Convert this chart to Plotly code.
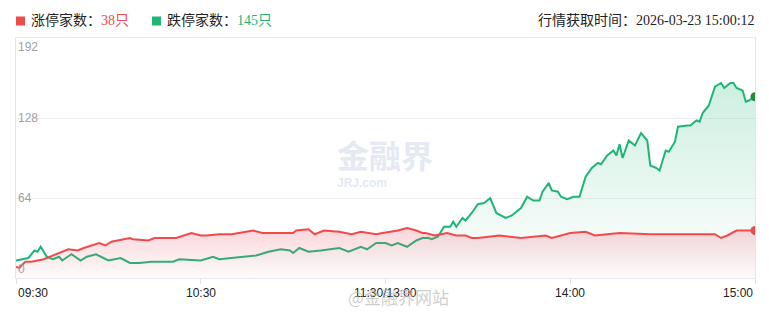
import plotly.graph_objects as go

# ---- data (minute index from 09:30, trading minutes) ----
red_min = [0,1,3,5,9,11,14,17,20,22,27,29,31,37,38,43,45,52,57,60,62,66,70,77,80,90,91,95,97,100,
           105,109,112,117,119,124,127,130,132,133,136,140,143,146,148,150,157,164,172,174,180,185,188,
           196,206,215,222,227,229,231,234,240]
red_val = [9,8,13,13,15,17,20,23,22,24,28,26,29,32,31,30,32,32,36,34,34,35,35,38,36,36,38,39,35,38,
           37,35,37,35,36,38,40,38,36,36,34,36,34,34,32,32,34,32,34,32,36,37,34,36,35,35,35,35,32,34,38,38]

green_min = [0,4,6,7,8,10,12,14,15,18,21,23,26,30,34,37,40,44,51,53,60,64,66,70,78,82,86,89,90,92,95,
             99,105,108,112,114,117,120,122,124,126,127,130,132,134,135,137,139,141,142,143,145,146,148,
             150,152,154,156,159,161,164,166,168,170,171,173,174,176,177,179,181,183,185,187,189,190,192,
             194,195,196,197,199,201,203,205,206,208,209,211,212,214,215,218,219,221,222,223,225,227,229,
             230,232,233,234,236,237,238,240]
green_val = [14,16,22,21,25,17,15,17,14,19,14,17,19,14,16,12,12,13,13,15,14,17,15,16,18,21,23,22,20,24,21,
             22,24,21,25,23,28,28,26,28,26,25,30,32,32,31,33,41,41,45,41,48,46,52,59,60,64,52,48,50,56,65,
             62,62,69,76,70,69,65,63,65,65,81,88,92,91,98,102,98,107,96,110,106,116,110,90,88,86,102,101,
             109,121,122,122,126,125,132,138,153,156,152,156,156,152,150,141,142,145]

tick_pos = [0, 60, 120, 180, 240]
tick_labels = ["09:30", "10:30", "11:30/13:00", "14:00", "15:00"]
y_ticks = [0, 64, 128, 192]

RED = "#f24a4a"
GREEN = "#1fb577"

fig = go.Figure()

fig.add_trace(go.Scatter(
    x=green_min, y=green_val, mode="lines",
    line=dict(color=GREEN, width=2),
    fill="tozeroy",
    fillgradient=dict(type="vertical",
                      colorscale=[[0, "rgba(31,181,119,0.0)"], [1, "rgba(31,181,119,0.22)"]]),
    hoverinfo="skip", showlegend=False))

fig.add_trace(go.Scatter(
    x=red_min, y=red_val, mode="lines",
    line=dict(color=RED, width=2),
    fill="tozeroy",
    fillgradient=dict(type="vertical",
                      colorscale=[[0, "rgba(230,90,110,0.02)"], [1, "rgba(230,90,110,0.25)"]]),
    hoverinfo="skip", showlegend=False))

# end point markers
fig.add_trace(go.Scatter(x=[green_min[-1]], y=[green_val[-1]], mode="markers",
                         marker=dict(size=9, color="#1e8a3a"), hoverinfo="skip", showlegend=False))
fig.add_trace(go.Scatter(x=[red_min[-1]], y=[red_val[-1]], mode="markers",
                         marker=dict(size=9, color=RED), hoverinfo="skip", showlegend=False))

L, R, T, B = 16, 14, 38, 35
W, H = 769, 313
PW, PH = W - L - R, H - T - B

def px(x):
    return (x - L) / PW

def py(y):
    return (H - B - y) / PH

ann = []
# y tick labels
for v in y_ticks:
    anc = "middle"
    if v == y_ticks[-1]:
        anc = "top"
    elif v == 0:
        anc = "bottom"
    ann.append(dict(x=0, xref="x", y=v, yref="y", text=str(v), showarrow=False,
                    xanchor="left", yanchor=anc, xshift=0,
                    font=dict(family="Liberation Sans, Arial", size=12, color="#a0a0a0")))
# x tick labels
for i, (p, t) in enumerate(zip(tick_pos, tick_labels)):
    xa = "left" if i == 0 else ("right" if i == len(tick_pos) - 1 else "center")
    ann.append(dict(x=p, xref="x", y=py(293), yref="paper", text=t, showarrow=False,
                    xanchor=xa, yanchor="middle",
                    font=dict(family="Liberation Sans, Arial", size=12, color="#222")))

TXT = "Liberation Serif, Noto Sans CJK SC"
ann.append(dict(x=px(29), xref="paper", y=py(20), yref="paper", showarrow=False,
                xanchor="left", yanchor="middle",
                text="涨停家数：<span style='color:%s'>38只</span>" % RED,
                font=dict(family=TXT, size=14, color="#222")))
ann.append(dict(x=px(165), xref="paper", y=py(20), yref="paper", showarrow=False,
                xanchor="left", yanchor="middle",
                text="跌停家数：<span style='color:%s'>145只</span>" % GREEN,
                font=dict(family=TXT, size=14, color="#222")))
ann.append(dict(x=px(757), xref="paper", y=py(20), yref="paper", showarrow=False,
                xanchor="right", yanchor="middle",
                text="行情获取时间：2026-03-23 15:00:12",
                font=dict(family=TXT, size=14, color="#222")))
# watermarks
ann.append(dict(x=px(385), xref="paper", y=py(154), yref="paper", showarrow=False,
                xanchor="center", yanchor="middle", text="<b>金融界</b>",
                font=dict(family="Noto Sans CJK SC", size=32, color="#e4e9f4")))
ann.append(dict(x=px(362), xref="paper", y=py(183), yref="paper", showarrow=False,
                xanchor="center", yanchor="middle", text="<b>JRJ.com</b>",
                font=dict(family="Liberation Sans", size=12, color="#e4e9f4")))
ann.append(dict(x=px(398), xref="paper", y=py(296), yref="paper", showarrow=False,
                xanchor="center", yanchor="middle", text="@金融界网站",
                font=dict(family="Noto Sans CJK SC", size=17, color="rgba(185,185,185,0.7)")))

shapes = [
    dict(type="rect", xref="paper", yref="paper", x0=px(16), x1=px(25), y0=py(25.5), y1=py(16.5),
         fillcolor="#f04b4b", line=dict(width=0)),
    dict(type="rect", xref="paper", yref="paper", x0=px(152), x1=px(161), y0=py(25.5), y1=py(16.5),
         fillcolor="#21b573", line=dict(width=0)),
]

fig.update_layout(
    width=W, height=H,
    margin=dict(l=L, r=R, t=T, b=B, pad=0),
    paper_bgcolor="white", plot_bgcolor="white",
    xaxis=dict(range=[0, 240], tickvals=tick_pos, showticklabels=False, ticks="outside",
               ticklen=5, tickcolor="#e2e2ea", showgrid=False, zeroline=False,
               showline=True, linecolor="#e8e8f0", linewidth=1, mirror=True, fixedrange=True),
    yaxis=dict(range=[0, 192], tickvals=y_ticks, showticklabels=False, showgrid=True,
               gridcolor="#f0f0f0", zeroline=False, showline=True, linecolor="#e4e4ee",
               linewidth=1, mirror=True, ticks="", fixedrange=True),
    annotations=ann, shapes=shapes, showlegend=False,
)

fig.write_html("out.html")
